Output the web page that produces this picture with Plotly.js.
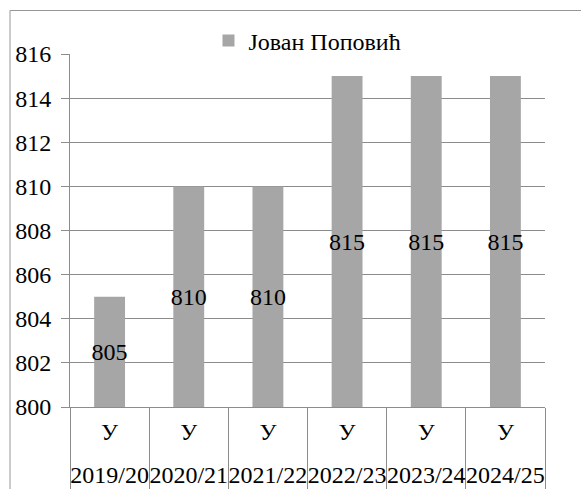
<!DOCTYPE html>
<html>
<head>
<meta charset="utf-8">
<script src="https://cdn.plot.ly/plotly-3.0.1.min.js"></script>
<style>
  html, body { margin: 0; padding: 0; background: #ffffff; }
  #chart { width: 581px; height: 489px; }
</style>
</head>
<body>
<div id="chart"></div>
<script>
const categories = ['2019/20', '2020/21', '2021/22', '2022/23', '2023/24', '2024/25'];
const levels = ['У', 'У', 'У', 'У', 'У', 'У'];
const values = [805, 810, 810, 815, 815, 815];
const seriesName = 'Јован Поповић';
const yRange = [800, 816];
const yStep = 2;

const FONT = 'Liberation Serif';
const GRID = '#8c8c8c';
const W = 581, H = 489;
const M = { l: 70, r: 36, t: 54, b: 82 };
const pw = W - M.l - M.r, ph = H - M.t - M.b;

const trace = {
  type: 'bar',
  x: categories,
  base: yRange[0],
  y: values.map(v => v - yRange[0]),
  name: seriesName,
  text: values.map(String),
  textposition: 'inside',
  insidetextanchor: 'middle',
  constraintext: 'none',
  textangle: 0,
  textfont: { family: FONT, size: 24, color: '#000000' },
  marker: { color: '#a6a6a6', line: { width: 0 } },
  showlegend: true,
  hoverinfo: 'skip'
};

const dummy = {
  type: 'scatter',
  x: levels.map((_, i) => i),
  y: values,
  xaxis: 'x2',
  yaxis: 'y',
  mode: 'none',
  showlegend: false,
  hoverinfo: 'skip'
};

const layout = {
  width: W, height: H,
  margin: M,
  paper_bgcolor: '#ffffff',
  plot_bgcolor: '#ffffff',
  font: { family: FONT, size: 24, color: '#000000' },
  bargap: 0.61,
  showlegend: true,
  legend: {
    orientation: 'h',
    x: 0.5, xanchor: 'center',
    y: 1 + 13 / ph, yanchor: 'middle',
    font: { family: FONT, size: 24, color: '#000000' },
    itemwidth: 30,
    bgcolor: 'rgba(0,0,0,0)'
  },
  xaxis: {
    type: 'category',
    categoryorder: 'array',
    categoryarray: categories,
    showgrid: false,
    zeroline: false,
    showline: true,
    linecolor: GRID,
    linewidth: 1,
    ticks: 'outside',
    tickson: 'boundaries',
    ticklen: 110,
    tickcolor: GRID,
    tickwidth: 1,
    tickangle: 0,
    tickfont: { family: FONT, size: 24, color: '#000000' },
    ticklabelstandoff: 46,
    fixedrange: true
  },
  xaxis2: {
    type: 'linear',
    overlaying: 'x',
    anchor: 'y',
    side: 'bottom',
    range: [-0.5, categories.length - 0.5],
    tickmode: 'array',
    tickvals: levels.map((_, i) => i),
    ticktext: levels,
    tickangle: 0,
    showgrid: false,
    zeroline: false,
    showline: false,
    ticks: '',
    tickfont: { family: FONT, size: 24, color: '#000000' },
    ticklabelstandoff: 8,
    fixedrange: true
  },
  yaxis: {
    range: yRange,
    dtick: yStep,
    tick0: yRange[0],
    showgrid: true,
    gridcolor: GRID,
    gridwidth: 1,
    zeroline: false,
    showline: true,
    linecolor: GRID,
    linewidth: 1,
    ticks: 'outside',
    ticklen: 8,
    tickcolor: GRID,
    tickwidth: 1,
    tickfont: { family: FONT, size: 24, color: '#000000' },
    ticklabelstandoff: 5,
    fixedrange: true
  },
  shapes: [{
    type: 'rect',
    xref: 'paper', yref: 'paper',
    x0: (10 - M.l) / pw,
    x1: (W + 30 - M.l) / pw,
    y0: (M.t + ph - (H + 30)) / ph,
    y1: (M.t + ph - 10.5) / ph,
    line: { color: '#969696', width: 1 },
    fillcolor: 'rgba(0,0,0,0)',
    layer: 'above'
  }]
};

Plotly.newPlot('chart', [trace, dummy], layout, { staticPlot: true, displayModeBar: false });
</script>
</body>
</html>
